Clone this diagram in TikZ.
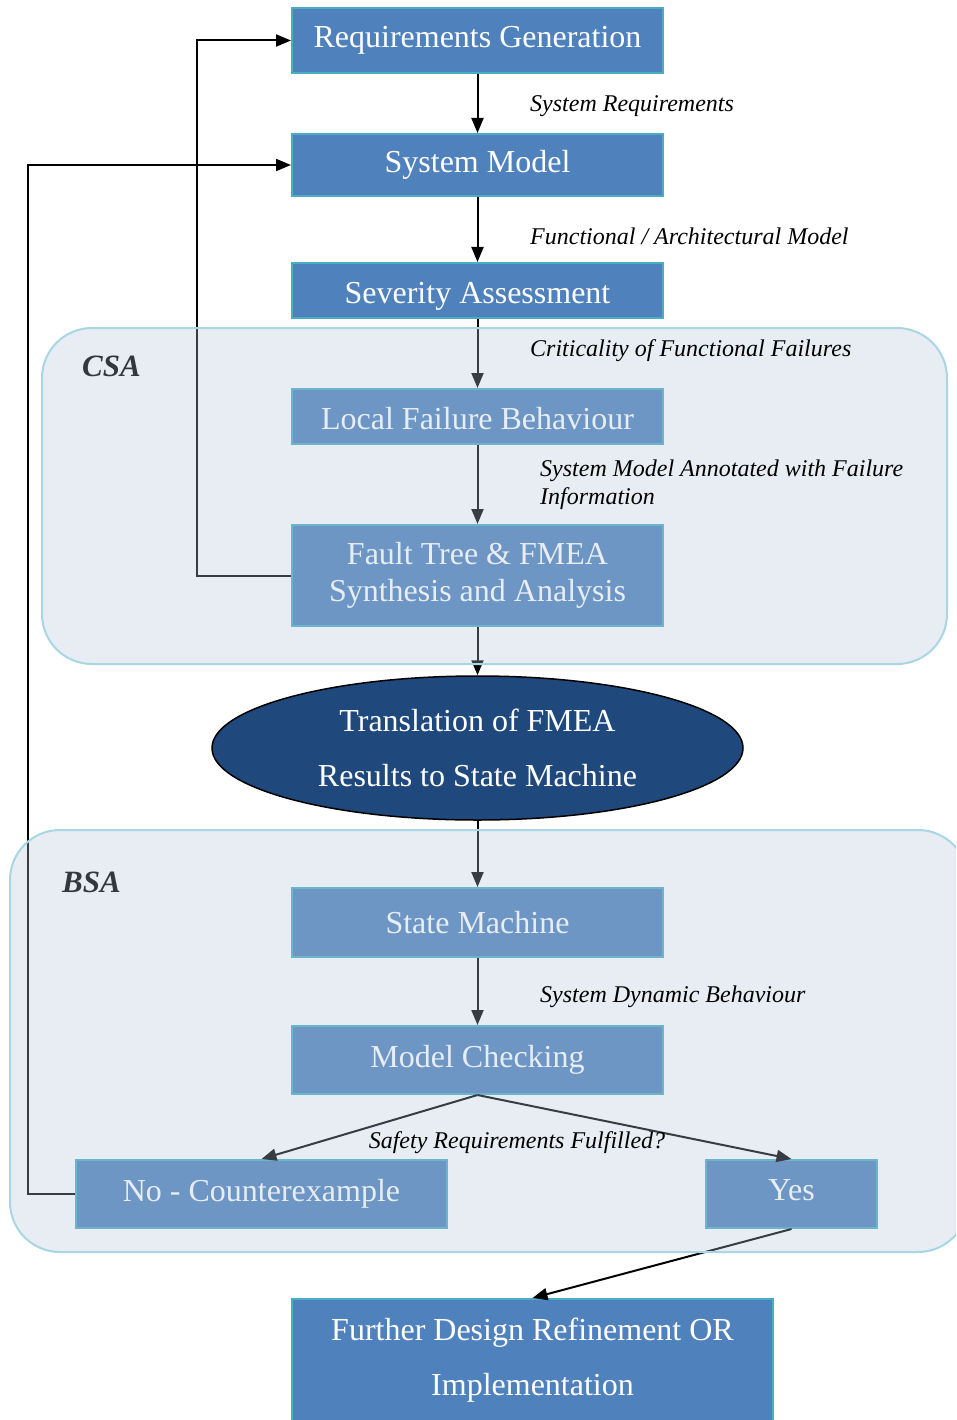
\documentclass[tikz,border=0pt]{standalone}
\usepackage{fontspec}
\setmainfont{Liberation Serif}
\usetikzlibrary{arrows.meta,shapes.geometric}

\definecolor{boxblue}{HTML}{4F81BD}
\definecolor{boxedge}{HTML}{4BACC6}
\definecolor{navy}{HTML}{1F497D}
\definecolor{zonefill}{RGB}{178,199,218}
\definecolor{zoneedge}{HTML}{A9D6E3}
\definecolor{zonetext}{HTML}{33383D}

\tikzset{
  stage/.style={rectangle, draw=boxedge, fill=boxblue, line width=2pt, text=white,
    minimum width=371pt, inner sep=0pt, align=center,
    font=\fontsize{32}{37}\selectfont},
  flow/.style={-{Triangle[length=15pt,width=12pt]}, line width=2pt, draw=black},
  note/.style={font=\fontsize{24}{28}\selectfont\itshape, align=left, inner sep=0pt},
  zone/.style={rounded corners=50pt, fill=zonefill, fill opacity=0.31,
    draw=zoneedge, draw opacity=1, line width=2pt},
  zonelabel/.style={font=\fontsize{31}{37}\selectfont\bfseries\itshape,
    text=zonetext, inner sep=0pt, anchor=west}
}

\begin{document}
\begin{tikzpicture}[x=1pt,y=-1pt]
\clip (0,0) rectangle (956,1420);
\fill[white] (0,0) rectangle (956,1420);

% process stages
\node[stage, minimum height=65pt] (req)   at (477.5,40.5)  {Requirements Generation};
\node[stage, minimum height=62pt] (sys)   at (477.5,165)   {System Model};
\node[stage, minimum height=55pt] (sev)   at (477.5,290.5) {\rule{0pt}{32pt}Severity Assessment};
\node[stage, minimum height=55pt] (local) at (477.5,416.5) {\rule{0pt}{26pt}Local Failure Behaviour};
\node[stage, minimum height=101pt] (fault) at (477.5,575.5) {Fault Tree \& FMEA\\Synthesis and Analysis};
\node[ellipse, draw=black, line width=1.5pt, fill=navy, text=white,
      minimum width=531pt, minimum height=144pt, inner sep=0pt, align=center,
      font=\fontsize{32}{55}\selectfont] (trans) at (477.5,748)
      {Translation of FMEA\\Results to State Machine};
\node[stage, minimum height=69pt] (sm)    at (477.5,922.5) {State Machine};
\node[stage, minimum height=68pt] (mc)    at (477.5,1060)  {Model Checking};
\node[stage, minimum height=68pt] (no)    at (261.5,1194)  {No - Counterexample};
\node[stage, minimum height=68pt, minimum width=171pt] (yes) at (791.5,1194) {Yes\rule[-7pt]{0pt}{0pt}};
\node[stage, anchor=north, minimum height=140pt, minimum width=481pt,
      font=\fontsize{32}{55}\selectfont] (further) at (532.5,1298)
      {Further Design Refinement OR\\Implementation\rule[-24pt]{0pt}{0pt}};

% feedback rails
\coordinate (railA) at (197,0);
\coordinate (railB) at (28,0);

% connectors
\draw[flow] (req) -- (sys);
\draw[flow] (sys) -- (sev);
\draw[flow] (sev) -- (local);
\draw[flow] (local) -- (fault);
\draw[flow] (fault) -- (trans);
\draw[flow] (trans) -- (sm);
\draw[flow] (sm) -- (mc);
\draw[flow] (mc.south) -- (no.north);
\draw[flow] (mc.south) -- (yes.north);
\draw[flow] (yes.south) -- (further.north);
\draw[flow] (fault.west) -- (fault.west -| railA) |- (req.west);
\draw[flow] (no.west) -- (no.west -| railB) |- (sys.west);

% labels outside the zones
\node[note, anchor=west] (l1) at (530,106) {System Requirements};
\node[note, anchor=west] (l2) at (530,236) {Functional / Architectural Model};

% analysis zones, laid over their stages
\draw[zone] (42,328) rectangle (947,664);
\draw[zone] (10,830) rectangle (968,1252);
\node[zonelabel] (csa) at (82,366) {CSA};
\node[zonelabel] (bsa) at (62,882) {BSA};

% labels inside the zones
\node[note, anchor=west] (l3) at (530,351) {Criticality of Functional Failures};
\node[note, anchor=west] (l4) at (540,485) {System Model Annotated with Failure\\Information};
\node[note, anchor=west] (l5) at (540,997) {System Dynamic Behaviour};
\node[note] (l6) at (517,1143) {Safety Requirements Fulfilled?};
\end{tikzpicture}
\end{document}
